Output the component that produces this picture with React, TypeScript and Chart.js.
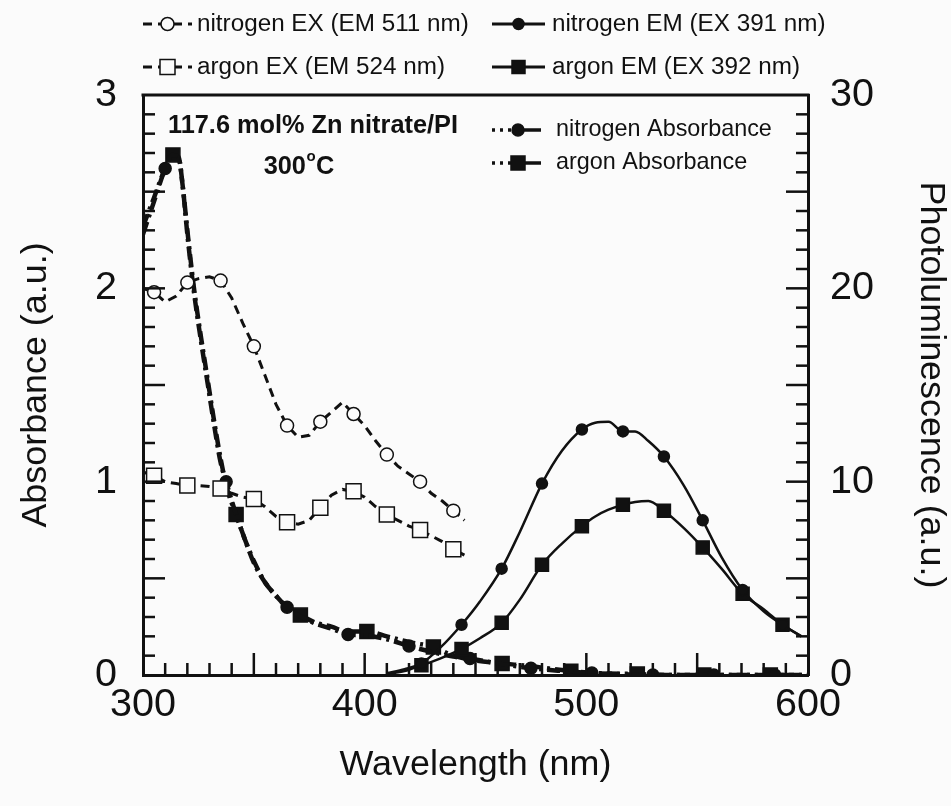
import { useEffect, useRef } from "react";
import { Chart, registerables } from "chart.js";

Chart.register(...registerables);

const INK = "#111";
const PAPER = "#fbfbfb";
const SANS = "'Liberation Sans', Arial, Helvetica, sans-serif";

// Excitation spectra (photoluminescence, right axis)
const exWl = [300, 305, 310, 315, 320, 325, 330, 335, 340, 345, 350, 355, 360, 365, 370, 375, 380, 385, 390, 395, 400, 405, 410, 415, 420, 425, 430, 435, 440, 445];
const nitrogenEx = [20.0, 19.8, 19.3, 19.6, 20.3, 20.5, 20.6, 20.4, 19.5, 18.2, 17.0, 15.5, 14.0, 12.9, 12.3, 12.4, 13.1, 13.6, 14.1, 13.5, 12.9, 12.1, 11.4, 10.8, 10.4, 10.0, 9.4, 9.0, 8.5, 8.0];
const argonEx = [10.5, 10.3, 10.0, 9.9, 9.8, 9.8, 9.75, 9.65, 9.4, 9.2, 9.1, 8.7, 8.2, 7.9, 7.8, 8.0, 8.65, 9.3, 9.6, 9.5, 9.2, 8.7, 8.3, 8.0, 7.7, 7.5, 7.2, 6.9, 6.5, 6.2];
const exMarks = [1, 4, 7, 10, 13, 16, 19, 22, 25, 28];

// Emission spectra (photoluminescence, right axis)
const emWl = [410, 418, 425.6, 434, 443.7, 452, 461.8, 470, 480, 489, 498, 504, 510, 516.5, 522, 528, 535, 544, 552.5, 561, 570.5, 580, 588.5, 597];
const nitrogenEm = [0.1, 0.3, 0.6, 1.4, 2.6, 3.8, 5.5, 7.4, 9.9, 11.6, 12.7, 13.05, 13.1, 12.6, 12.6, 12.1, 11.3, 9.8, 8.0, 6.1, 4.4, 3.3, 2.6, 2.0];
const argonEm = [0.05, 0.2, 0.5, 0.85, 1.35, 1.9, 2.7, 3.9, 5.7, 6.8, 7.7, 8.2, 8.55, 8.8, 8.95, 9.0, 8.5, 7.6, 6.6, 5.5, 4.2, 3.4, 2.6, 2.0];
const emMarks = [2, 4, 6, 8, 10, 13, 16, 18, 20, 22];

// Absorbance (left axis)
const nAbsWl = [300, 305, 310, 313, 316, 318, 320, 323, 326, 329, 332, 335, 337.5, 342, 346, 350, 355, 360, 365, 370, 378, 385, 392.5, 400, 410, 420, 430, 440, 447.5, 460, 475, 490, 502.5, 515, 530, 545, 557.5, 570, 585, 600];
const nitrogenAbs = [2.28, 2.45, 2.62, 2.69, 2.68, 2.52, 2.28, 1.98, 1.74, 1.52, 1.3, 1.1, 1.0, 0.83, 0.7, 0.58, 0.48, 0.41, 0.35, 0.31, 0.265, 0.24, 0.21, 0.205, 0.185, 0.15, 0.12, 0.095, 0.085, 0.06, 0.035, 0.02, 0.01, 0.005, 0, 0, 0, 0, 0, 0];
const nAbsMarks = [2, 12, 18, 22, 25, 28, 30, 32, 34, 36, 38];

const aAbsWl = [300, 305, 310, 313.5, 316, 318, 320, 323, 326, 329, 332, 335, 338, 342, 346, 350, 355, 360, 365, 371, 378, 385, 392, 401, 410, 420, 431, 440, 450, 462, 475, 493, 505, 523, 540, 553, 570, 583, 600];
const argonAbs = [2.32, 2.47, 2.62, 2.69, 2.68, 2.52, 2.3, 2.0, 1.76, 1.54, 1.32, 1.12, 0.96, 0.83, 0.7, 0.59, 0.48, 0.41, 0.35, 0.31, 0.27, 0.25, 0.225, 0.225, 0.2, 0.17, 0.145, 0.1, 0.075, 0.06, 0.045, 0.02, 0.01, 0.005, 0, 0, 0, 0, 0];
const aAbsMarks = [3, 13, 19, 23, 26, 29, 31, 33, 35, 37];

const xTicks = [300, 400, 500, 600];
const absTicks = [0, 1, 2, 3];
const plTicks = [0, 10, 20, 30];

const EX_DASH = [9, 6];
const ABS_DASH = [13, 5, 3, 5];

type Mark = { style: "circle" | "rect"; r: number; filled: boolean };

const pts = (xs: number[], ys: number[]) => xs.map((x, i) => ({ x, y: ys[i] }));

// font size at which `text` is `target` px wide in the chart's face
function fitSize(text: string, weight: string, target: number) {
  const c = document.createElement("canvas").getContext("2d")!;
  c.font = `${weight} 100px ${SANS}`;
  return (100 * target) / c.measureText(text).width;
}

function series(label: string, xs: number[], ys: number[], marks: number[], axis: string, dash: number[], width: number, m: Mark, smooth: boolean) {
  const set = new Set(marks);
  // Chart.js 'rect' draws a square of side radius*sqrt(2)
  const radius = m.style === "rect" ? m.r * Math.SQRT2 : m.r;
  return {
    label,
    data: pts(xs, ys),
    yAxisID: axis,
    borderColor: INK,
    borderWidth: width,
    borderDash: dash,
    tension: smooth ? 0.4 : 0,
    cubicInterpolationMode: smooth ? "monotone" : "default",
    pointStyle: m.style,
    pointRadius: (c: any) => (set.has(c.dataIndex) ? radius : 0),
    pointBorderWidth: 1.5,
    pointBorderColor: INK,
    pointBackgroundColor: m.filled ? INK : PAPER,
    fill: false,
  };
}

const markN_EX: Mark = { style: "circle", r: 6.5, filled: false };
const markA_EX: Mark = { style: "rect", r: 7.5, filled: false };
const markN_EM: Mark = { style: "circle", r: 5.5, filled: true };
const markA_EM: Mark = { style: "rect", r: 6.5, filled: true };
const markN_AB: Mark = { style: "circle", r: 6, filled: true };
const markA_AB: Mark = { style: "rect", r: 7, filled: true };

function drawMark(ctx: CanvasRenderingContext2D, m: Mark, x: number, y: number) {
  ctx.save();
  ctx.setLineDash([]);
  ctx.beginPath();
  if (m.style === "circle") ctx.arc(x, y, m.r, 0, Math.PI * 2);
  else ctx.rect(x - m.r, y - m.r, 2 * m.r, 2 * m.r);
  ctx.fillStyle = m.filled ? INK : PAPER;
  ctx.fill();
  ctx.lineWidth = 1.5;
  ctx.strokeStyle = INK;
  ctx.stroke();
  ctx.restore();
}

function seg(ctx: CanvasRenderingContext2D, x0: number, y0: number, x1: number, y1: number) {
  ctx.beginPath();
  ctx.moveTo(x0, y0);
  ctx.lineTo(x1, y1);
  ctx.stroke();
}

type Sizes = { legend: number; inner: number; note: number };

function makeDecor(sz: Sizes) {
  return {
    id: "decor",
    beforeDraw(chart: any) {
      const { ctx, width, height } = chart;
      ctx.save();
      ctx.fillStyle = PAPER;
      ctx.fillRect(0, 0, width, height);
      ctx.restore();
    },
    afterDraw(chart: any) {
      const { ctx, chartArea: ca, scales } = chart;
      const sx = scales.x, sy = scales.y, sy1 = scales.y1;
      ctx.save();
      ctx.strokeStyle = INK;
      ctx.lineCap = "butt";

      // frame top
      ctx.lineWidth = 3;
      seg(ctx, ca.left - 1.5, ca.top, ca.right + 1.5, ca.top);

      // inward ticks
      ctx.lineWidth = 2.5;
      for (let v = 310; v < 600; v += 10) {
        const px = sx.getPixelForValue(v);
        seg(ctx, px, ca.bottom, px, ca.bottom - (v % 50 === 0 ? 22 : 12));
      }
      for (let i = 1; i < 30; i++) {
        const py = sy.getPixelForValue(i / 10);
        seg(ctx, ca.left, py, ca.left + (i % 5 === 0 ? 22 : 12), py);
        const qy = sy1.getPixelForValue(i);
        seg(ctx, ca.right, qy, ca.right - (i % 5 === 0 ? 22 : 12), qy);
      }

      const ds = chart.data.datasets;
      ctx.fillStyle = INK;
      ctx.textBaseline = "middle";
      ctx.textAlign = "left";

      // legend above the plot
      const top = [
        { i: 0, m: markN_EX, x0: 143, x1: 192, tx: 197, y: 24, dash: EX_DASH },
        { i: 2, m: markN_EM, x0: 492, x1: 545, tx: 552, y: 24, dash: [] },
        { i: 1, m: markA_EX, x0: 143, x1: 192, tx: 197, y: 67, dash: EX_DASH },
        { i: 3, m: markA_EM, x0: 492, x1: 545, tx: 552, y: 67, dash: [] },
      ];
      ctx.font = `${sz.legend}px ${SANS}`;
      for (const e of top) {
        ctx.lineWidth = 3;
        ctx.setLineDash(e.dash);
        seg(ctx, e.x0, e.y, e.x1, e.y);
        ctx.setLineDash([]);
        drawMark(ctx, e.m, (e.x0 + e.x1) / 2, e.y);
        ctx.fillText(ds[e.i].label, e.tx, e.y);
      }

      // legend inside the plot
      const inner = [
        { i: 4, m: markN_AB, y: 130 },
        { i: 5, m: markA_AB, y: 163 },
      ];
      ctx.font = `${sz.inner}px ${SANS}`;
      for (const e of inner) {
        ctx.lineWidth = 3.5;
        ctx.setLineDash([3, 5]);
        seg(ctx, 492, e.y, 512, e.y);
        ctx.setLineDash([]);
        seg(ctx, 518, e.y, 541, e.y);
        drawMark(ctx, e.m, 518, e.y);
        ctx.fillText(ds[e.i].label, 556, e.y);
      }

      // sample annotation
      const big = `bold ${sz.note}px ${SANS}`;
      const small = `bold ${Math.round(sz.note * 0.58)}px ${SANS}`;
      ctx.font = big;
      ctx.fillText("117.6 mol% Zn nitrate/PI", 168, 126);
      const w1 = ctx.measureText("300").width;
      const w3 = ctx.measureText("C").width;
      ctx.font = small;
      const w2 = ctx.measureText("o").width;
      const start = 299 - (w1 + w2 + 1 + w3) / 2;
      ctx.font = big;
      ctx.fillText("300", start, 167);
      ctx.fillText("C", start + w1 + w2 + 1, 167);
      ctx.font = small;
      ctx.fillText("o", start + w1 + 0.5, 157);

      ctx.restore();
    },
  };
}

export default function App() {
  const ref = useRef<HTMLCanvasElement | null>(null);

  useEffect(() => {
    document.body.style.margin = "0";
    const canvas = ref.current;
    if (!canvas) return;

    const tickSize = fitSize("300", "", 66);
    const titleSize = fitSize("Wavelength (nm)", "", 272);
    const sizes: Sizes = {
      legend: fitSize("nitrogen EX (EM 511 nm)", "", 272),
      inner: fitSize("nitrogen Absorbance", "", 216),
      note: fitSize("117.6 mol% Zn nitrate/PI", "bold", 290),
    };

    const datasets: any[] = [
      series("nitrogen EX (EM 511 nm)", exWl, nitrogenEx, exMarks, "y1", EX_DASH, 3, markN_EX, false),
      series("argon EX (EM 524 nm)", exWl, argonEx, exMarks, "y1", EX_DASH, 3, markA_EX, false),
      series("nitrogen EM (EX 391 nm)", emWl, nitrogenEm, emMarks, "y1", [], 2.5, markN_EM, true),
      series("argon EM (EX 392 nm)", emWl, argonEm, emMarks, "y1", [], 2.5, markA_EM, true),
      series("nitrogen Absorbance", nAbsWl, nitrogenAbs, nAbsMarks, "y", ABS_DASH, 4.5, markN_AB, true),
      series("argon Absorbance", aAbsWl, argonAbs, aAbsMarks, "y", ABS_DASH, 4.5, markA_AB, true),
    ];

    const tickFont = { family: SANS, size: tickSize, lineHeight: 1 };
    const titleFont = { family: SANS, size: titleSize, lineHeight: 1 };
    const half = titleSize / 2;
    const grid = { display: true, drawOnChartArea: false, drawTicks: false };
    const border = { display: true, color: INK, width: 3 };

    const chart = new Chart(canvas, {
      type: "line",
      data: { datasets },
      plugins: [makeDecor(sizes)],
      options: {
        animation: false,
        responsive: false,
        events: [],
        layout: { padding: { top: 95, left: 0, right: 0, bottom: 0 } },
        plugins: { legend: { display: false }, tooltip: { enabled: false } },
        scales: {
          x: {
            type: "linear",
            position: "bottom",
            min: 300,
            max: 600,
            afterFit: (s: any) => { s.height = 131; },
            afterBuildTicks: (s: any) => { s.ticks = xTicks.map((value) => ({ value })); },
            ticks: { padding: 30 - tickSize / 2, font: tickFont, color: INK, maxRotation: 0, autoSkip: false },
            grid,
            border,
            title: { display: true, text: "Wavelength (nm)", font: titleFont, color: INK, padding: { top: 0, bottom: 41 - half } },
          },
          y: {
            type: "linear",
            position: "left",
            min: 0,
            max: 3,
            afterFit: (s: any) => { s.width = 143; },
            afterBuildTicks: (s: any) => { s.ticks = absTicks.map((value) => ({ value })); },
            ticks: { padding: 26, font: tickFont, color: INK },
            grid,
            border,
            title: { display: true, text: "Absorbance (a.u.)", font: titleFont, color: INK, padding: { top: 36 - half, bottom: 0 } },
          },
          y1: {
            type: "linear",
            position: "right",
            min: 0,
            max: 30,
            afterFit: (s: any) => { s.width = 143; },
            afterBuildTicks: (s: any) => { s.ticks = plTicks.map((value) => ({ value })); },
            ticks: { padding: 22, font: tickFont, color: INK },
            grid,
            border,
            title: { display: true, text: "Photoluminescence (a.u.)", font: titleFont, color: INK, padding: { top: 20 - half, bottom: 0 } },
          },
        },
      } as any,
    });

    return () => chart.destroy();
  }, []);

  return (
    <div style={{ position: "relative", width: 951, height: 806, background: PAPER }}>
      <canvas ref={ref} width={951} height={806} style={{ display: "block" }} />
    </div>
  );
}
